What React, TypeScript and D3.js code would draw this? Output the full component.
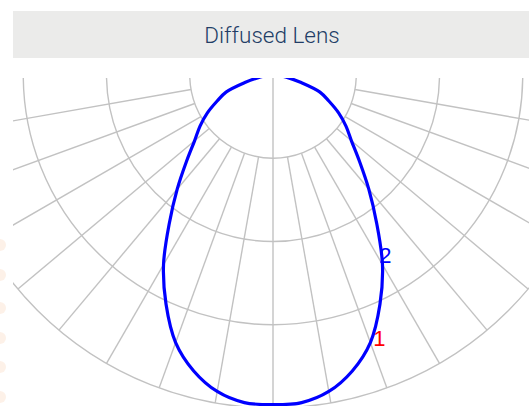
import React from 'react';
import * as d3 from 'd3';

// Polar angles (degrees from nadir) and intensity values of the curve (symmetric)
const angles = [0, 5, 10, 15, 20, 25, 30, 35, 40, 45, 50, 55, 60, 65, 70, 75, 80, 85, 90];
const intensity = [396, 395, 386, 368, 342, 304, 263, 217, 179, 147, 123, 107, 91, 74, 60, 35, 18, 7, 0];
const ringValues = [100, 200, 300, 400];
const spokeAngles = d3.range(-180, 181, 10).filter((a) => a !== 0);
const title = 'Diffused Lens';
const labelTexts = ['2', '1'];
const labelAngles = [32, 22];
const labelValues = [255, 341];
const labelColors = ['#0000ff', '#ff0000'];
const dotYs = [245, 275, 308, 338, 367, 397];

const W = 529;
const H = 406;
const cx = 273;
const cy = 75;

export default function App() {
  const r = d3.scaleLinear().domain([0, 400]).range([0, 333]);
  const rad = (deg: number) => (deg * Math.PI) / 180;

  const pts: { phi: number; v: number }[] = [];
  for (let i = angles.length - 1; i >= 0; i--) pts.push({ phi: -angles[i], v: intensity[i] });
  for (let i = 1; i < angles.length; i++) pts.push({ phi: angles[i], v: intensity[i] });

  const line = d3
    .lineRadial<{ phi: number; v: number }>()
    .angle((d) => Math.PI - rad(d.phi))
    .radius((d) => r(d.v))
    .curve(d3.curveCatmullRom.alpha(0.5));

  const polar = (deg: number, v: number) => {
    const a = Math.PI - rad(deg);
    return [r(v) * Math.sin(a), -r(v) * Math.cos(a)];
  };

  const rMax = r(ringValues[ringValues.length - 1]);

  return (
    <svg
      width={W}
      height={H}
      style={{ position: 'absolute', left: 0, top: 0, background: '#fff' }}
    >
      <defs>
        <clipPath id="plotclip">
          <rect x={13} y={78} width={W - 13} height={H - 78} />
        </clipPath>
      </defs>
      {dotYs.map((y, i) => (
        <circle key={i} cx={0} cy={y} r={6} fill="#fdeee2" opacity={0.8} />
      ))}
      <rect x={13} y={11} width={W - 13} height={47} fill="#ebebea" />
      <text
        x={272}
        y={43}
        textAnchor="middle"
        fontFamily="Roboto, 'Open Sans', sans-serif"
        fontWeight={300}
        fontSize={22.5}
        fill="#223d66"
      >
        {title}
      </text>
      <g clipPath="url(#plotclip)">
        <g transform={`translate(${cx},${cy})`}>
          {ringValues.map((v) => (
            <circle key={v} r={r(v)} fill="none" stroke="#c2c2c2" strokeWidth={1.4} />
          ))}
          {spokeAngles.map((a) => {
            const [x1, y1] = polar(a, ringValues[0]);
            const [x2, y2] = polar(a, ringValues[ringValues.length - 1]);
            return (
              <line key={a} x1={x1} y1={y1} x2={x2} y2={y2} stroke="#c2c2c2" strokeWidth={1.4} />
            );
          })}
          <line x1={0} y1={0} x2={0} y2={rMax + 5} stroke="#c2c2c2" strokeWidth={1.4} />
          {labelTexts.map((t, i) => {
            const [x, y] = polar(labelAngles[i], labelValues[i]);
            return (
              <text
                key={t}
                x={x}
                y={y}
                textAnchor="middle"
                dominantBaseline="central"
                fontFamily="'Liberation Sans', Arial, sans-serif"
                fontSize={22}
                fill={labelColors[i]}
              >
                {t}
              </text>
            );
          })}
          <path d={line(pts) || ''} fill="none" stroke="#0000ff" strokeWidth={3.2} strokeLinejoin="round" />
        </g>
      </g>
    </svg>
  );
}
